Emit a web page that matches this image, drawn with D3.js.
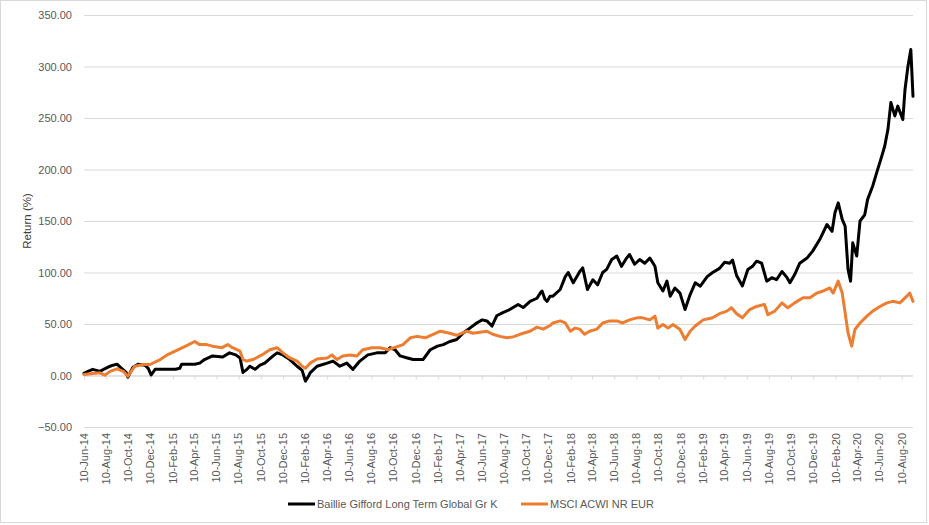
<!DOCTYPE html>
<html>
<head>
<meta charset="utf-8">
<script src="https://cdn.jsdelivr.net/npm/d3@7"></script>
<style>
  html, body { margin: 0; padding: 0; background: #fff; }
  svg { display: block; }
  text { font-family: "Liberation Sans", Arial, sans-serif; }
</style>
</head>
<body>
<svg id="chart" width="929" height="525"></svg>
<script>
// ---- Data ----
const seriesNames = ["Baillie Gifford Long Term Global Gr K", "MSCI ACWI NR EUR"];

const bgDates = ["2014-06-10","2014-06-21","2014-07-04","2014-07-24","2014-08-06","2014-08-21","2014-08-29","2014-09-09","2014-09-23","2014-10-04","2014-10-09","2014-10-17","2014-10-23","2014-11-06","2014-11-25","2014-12-04","2014-12-12","2014-12-23","2015-01-20","2015-02-17","2015-03-01","2015-03-06","2015-04-11","2015-04-25","2015-05-08","2015-05-30","2015-06-27","2015-07-16","2015-08-02","2015-08-14","2015-08-22","2015-09-02","2015-09-10","2015-09-24","2015-10-08","2015-10-21","2015-11-13","2015-11-24","2015-12-10","2015-12-29","2016-01-18","2016-02-01","2016-02-10","2016-02-18","2016-02-23","2016-03-13","2016-04-10","2016-04-26","2016-05-15","2016-06-03","2016-06-20","2016-07-09","2016-07-31","2016-08-25","2016-09-17","2016-09-30","2016-10-14","2016-10-28","2016-11-17","2016-12-03","2016-12-30","2017-01-19","2017-02-08","2017-02-24","2017-03-14","2017-04-02","2017-04-19","2017-05-08","2017-05-27","2017-06-11","2017-06-24","2017-07-08","2017-07-21","2017-08-07","2017-08-26","2017-09-18","2017-10-02","2017-10-21","2017-11-09","2017-11-18","2017-11-23","2017-12-01","2017-12-07","2017-12-15","2017-12-23","2018-01-12","2018-01-26","2018-02-03","2018-02-17","2018-03-07","2018-03-15","2018-03-28","2018-04-12","2018-04-25","2018-05-09","2018-05-20","2018-06-03","2018-06-17","2018-06-30","2018-07-14","2018-07-22","2018-08-05","2018-08-19","2018-09-02","2018-09-16","2018-09-30","2018-10-08","2018-10-22","2018-11-02","2018-11-11","2018-11-24","2018-12-08","2018-12-22","2019-01-05","2019-01-19","2019-02-02","2019-02-21","2019-03-08","2019-03-27","2019-04-10","2019-04-24","2019-05-02","2019-05-13","2019-05-29","2019-06-13","2019-06-26","2019-07-07","2019-07-21","2019-08-04","2019-08-18","2019-08-31","2019-09-15","2019-09-29","2019-10-07","2019-10-20","2019-11-03","2019-11-23","2019-12-09","2019-12-28","2020-01-17","2020-01-31","2020-02-08","2020-02-17","2020-02-28","2020-03-07","2020-03-15","2020-03-22","2020-03-28","2020-04-08","2020-04-17","2020-04-30","2020-05-08","2020-05-22","2020-06-02","2020-06-16","2020-06-24","2020-07-03","2020-07-11","2020-07-22","2020-07-30","2020-08-13","2020-08-19","2020-08-27","2020-09-04","2020-09-10"];
const bgValues = [2,4,6,4,6.5,9,10,11,6.5,3,-1.6,4,8,11,10,7,0.5,6,6,6,7,11,11,12,15.5,19,18,22,20,17,3,6,9,6,10,12,19,22,20,15.5,9,5,-5.5,-1,2.6,9,12,14,9,12,6,14,20,22,22,27,25,19,17,15.5,15.5,25,28.5,30,33,35,41,46,51,54,53,48,58,61,64,69,66,72,75,80,82,74,72,77,77,83.5,96,100,90,101,104.5,83.5,93,88,100,103,112.6,116,106,114,117.5,108,112.6,109,114,106,90,82,91.6,77,85,80,64,78.6,90,86.7,96,100,104,110,109,112,97,87,103,106,111,109,91.6,95,93,101,95,90,98,109,114,121,132,146.6,140,158,167.6,151.5,145,103,91.6,128.8,116,150,156,171,184,197,213,222.6,239,265,252,261.5,248.5,277.7,300,316.5,271];

const msciDates = ["2014-06-10","2014-07-04","2014-07-24","2014-08-06","2014-08-21","2014-09-09","2014-09-26","2014-10-09","2014-10-28","2014-11-20","2014-12-09","2015-01-06","2015-01-25","2015-02-22","2015-03-20","2015-04-11","2015-04-25","2015-05-14","2015-05-30","2015-06-25","2015-07-11","2015-07-24","2015-08-14","2015-08-22","2015-09-02","2015-09-19","2015-10-13","2015-11-04","2015-11-24","2015-12-10","2015-12-29","2016-01-18","2016-02-01","2016-02-10","2016-02-23","2016-03-13","2016-04-10","2016-04-23","2016-05-07","2016-05-23","2016-06-12","2016-07-01","2016-07-17","2016-08-12","2016-09-03","2016-09-25","2016-10-20","2016-11-05","2016-11-25","2016-12-14","2017-01-05","2017-01-27","2017-02-16","2017-03-14","2017-04-02","2017-04-30","2017-05-16","2017-06-05","2017-06-24","2017-07-10","2017-07-30","2017-08-18","2017-09-04","2017-09-23","2017-10-21","2017-11-09","2017-11-26","2017-12-15","2017-12-23","2018-01-12","2018-01-26","2018-02-09","2018-02-22","2018-03-07","2018-03-20","2018-04-03","2018-04-23","2018-05-09","2018-05-28","2018-06-17","2018-07-03","2018-07-22","2018-08-11","2018-08-27","2018-09-16","2018-09-30","2018-10-08","2018-10-22","2018-11-05","2018-11-19","2018-12-08","2018-12-22","2019-01-05","2019-01-19","2019-02-10","2019-03-08","2019-03-27","2019-04-16","2019-04-29","2019-05-13","2019-05-29","2019-06-18","2019-07-07","2019-07-29","2019-08-07","2019-08-26","2019-09-15","2019-10-01","2019-10-20","2019-11-12","2019-12-01","2019-12-20","2020-01-06","2020-01-25","2020-02-03","2020-02-17","2020-02-28","2020-03-07","2020-03-15","2020-03-25","2020-04-03","2020-04-17","2020-05-06","2020-05-22","2020-06-11","2020-06-30","2020-07-16","2020-08-05","2020-08-24","2020-09-01","2020-09-10"];
const msciValues = [1,2,2.6,0.3,4,6.5,4,-0.6,9,10.7,10.7,15.5,20,24.6,29,33,30,30,28.5,27,30,27,23.6,15.5,14,15.5,20,25,27,22,17,14,9,7,12,16,17,20,15.5,19,20,19,25,27,27,25,28,30,36.6,38,36.6,40,43,41,39,43,41,42,43,40,38,36.6,37.5,40,43,47,45,48.5,51,53,51,43,46,45,40,43,45,51,53,53,51,54,56,56,54,57.6,46,49.5,46,49.5,44.7,35,43,48,54,56,60,62.5,65.7,60,56,64,67,69,59,62.5,70.5,65.7,70.5,75.4,75.4,80,82,85,80,91.6,80,61,41.4,28.5,44.7,51,57.6,62.5,67,70.5,72,70.5,77,80,72];

const yTicks = [-50, 0, 50, 100, 150, 200, 250, 300, 350];
const xTickDates = ["2014-06-10","2014-08-10","2014-10-10","2014-12-10","2015-02-10","2015-04-10","2015-06-10","2015-08-10","2015-10-10","2015-12-10","2016-02-10","2016-04-10","2016-06-10","2016-08-10","2016-10-10","2016-12-10","2017-02-10","2017-04-10","2017-06-10","2017-08-10","2017-10-10","2017-12-10","2018-02-10","2018-04-10","2018-06-10","2018-08-10","2018-10-10","2018-12-10","2019-02-10","2019-04-10","2019-06-10","2019-08-10","2019-10-10","2019-12-10","2020-02-10","2020-04-10","2020-06-10","2020-08-10"];
const xDomain = ["2014-06-10", "2020-09-10"];
const colors = ["#000000", "#ED7D31"];

// ---- Drawing ----
const parse = d3.utcParse("%Y-%m-%d");
const fmtTick = d3.utcFormat("%d-%b-%y");
const svg = d3.select("#chart");
const plot = { left: 84, right: 913, top: 15, bottom: 427 };

svg.append("rect")
  .attr("x", 0.5).attr("y", 0.5).attr("width", 926).attr("height", 522)
  .attr("fill", "#fff").attr("stroke", "#d9d9d9").attr("stroke-width", 1);

const x = d3.scaleUtc().domain(xDomain.map(parse)).range([plot.left, plot.right]);
const y = d3.scaleLinear().domain([-50, 350]).range([plot.bottom, plot.top]);

// gridlines + y labels
const yAxis = d3.axisLeft(y).tickValues(yTicks).tickSize(-(plot.right - plot.left))
  .tickPadding(12).tickFormat(d3.format(".2f"));
const gy = svg.append("g").attr("transform", `translate(${plot.left},0)`).call(yAxis);
gy.select(".domain").remove();
gy.selectAll(".tick line").attr("stroke", "#d9d9d9").attr("stroke-width", 1);
gy.selectAll(".tick text").attr("fill", "#595959").style("font-size", "11px")
  .style("font-family", '"Liberation Sans", Arial, sans-serif');

// horizontal axis at 0 with tick marks, labels at bottom
const xTicks = xTickDates.map(parse);
const xAxis = d3.axisBottom(x).tickValues(xTicks).tickSize(4).tickFormat("");
const gx = svg.append("g").attr("transform", `translate(0,${y(0)})`).call(xAxis);
gx.select(".domain").attr("stroke", "#d9d9d9").attr("d", `M${plot.left},0.5H${plot.right}`);
gx.selectAll(".tick line").attr("stroke", "#d9d9d9");

svg.append("g").selectAll("text").data(xTicks).join("text")
  .attr("transform", d => `translate(${x(d)},433) rotate(-90)`)
  .attr("text-anchor", "end").attr("dy", "0.35em")
  .attr("fill", "#595959").style("font-size", "11px")
  .text(d => fmtTick(d));

// y axis title
svg.append("text")
  .attr("transform", `translate(27,${(plot.top + plot.bottom) / 2}) rotate(-90)`)
  .attr("text-anchor", "middle").attr("dy", "0.35em")
  .attr("fill", "#404040").style("font-size", "11.5px")
  .text("Return (%)");

// lines
const line = d3.line().x(d => x(d[0])).y(d => y(d[1])).curve(d3.curveLinear);
const series = [
  bgDates.map((d, i) => [parse(d), bgValues[i]]),
  msciDates.map((d, i) => [parse(d), msciValues[i]])
];
[0, 1].forEach(i => {
  svg.append("path").datum(series[i])
    .attr("fill", "none").attr("stroke", colors[i]).attr("stroke-width", 3)
    .attr("stroke-linejoin", "round").attr("stroke-linecap", "round")
    .attr("d", line);
});

// legend
const legendItems = [{ x: 288, name: seriesNames[0], c: colors[0] }, { x: 521, name: seriesNames[1], c: colors[1] }];
const lg = svg.append("g");
legendItems.forEach(it => {
  lg.append("line").attr("x1", it.x).attr("x2", it.x + 27).attr("y1", 504).attr("y2", 504)
    .attr("stroke", it.c).attr("stroke-width", 3);
  lg.append("text").attr("x", it.x + 29).attr("y", 504).attr("dy", "0.35em")
    .attr("fill", "#595959").style("font-size", "11px").text(it.name);
});
</script>
</body>
</html>
